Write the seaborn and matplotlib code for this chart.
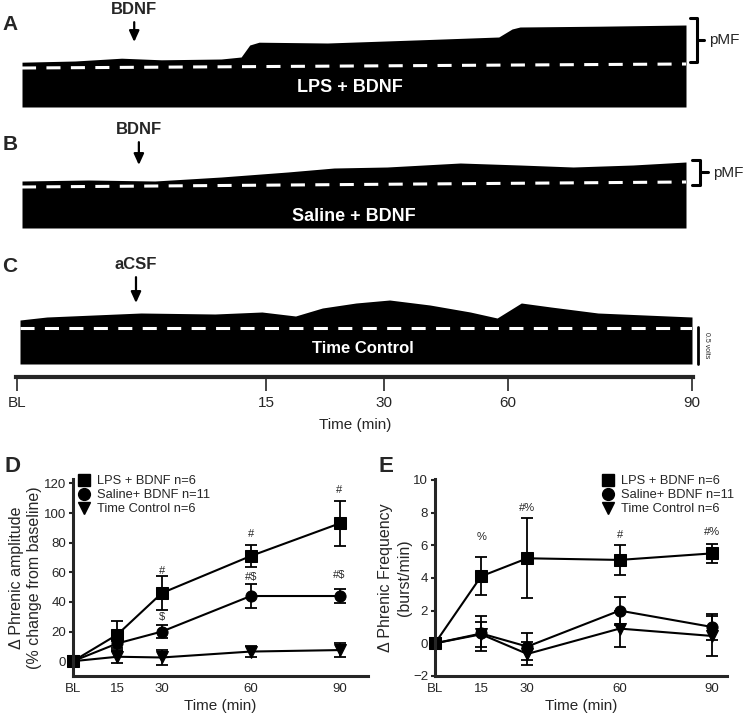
import numpy as np
import pandas as pd
import matplotlib
matplotlib.use('Agg')
import matplotlib.pyplot as plt
from matplotlib.lines import Line2D
import seaborn as sns

# ---- raw trace envelopes (fraction of recording, height in volts) ----
trace_a_pos = [0, 0.08, 0.15, 0.21, 0.30, 0.33, 0.343, 0.357, 0.46, 0.60, 0.718, 0.738, 0.75, 0.87, 1.0]
trace_a_top = [0.56, 0.575, 0.61, 0.59, 0.60, 0.625, 0.775, 0.81, 0.80, 0.84, 0.875, 0.975, 1.0, 1.01, 1.025]
trace_a_dash = [0.4875, 0.5375]

trace_b_pos = [0, 0.1, 0.2, 0.3, 0.4, 0.47, 0.55, 0.66, 0.75, 0.83, 0.92, 1.0]
trace_b_top = [0.5875, 0.6, 0.5875, 0.6375, 0.70, 0.75, 0.7625, 0.8125, 0.7875, 0.7625, 0.7875, 0.825]
trace_b_dash = [0.5125, 0.575]

trace_c_pos = [0, 0.04, 0.11, 0.18, 0.29, 0.36, 0.41, 0.45, 0.5, 0.55, 0.61, 0.67, 0.71, 0.746,
               0.79, 0.86, 0.93, 1.0]
trace_c_top = [0.55, 0.5875, 0.6125, 0.6375, 0.625, 0.65, 0.6, 0.7, 0.7625, 0.8, 0.7375, 0.65,
               0.575, 0.7625, 0.7125, 0.6375, 0.6125, 0.5875]
trace_c_dash = [0.45, 0.45]

timeline_pos = [-0.005, 0.366, 0.541, 0.726, 1.0]

# ---- summary data ----
time_min = [0, 15, 30, 60, 90]
time_labels = ['BL', '15', '30', '60', '90']
groups = ['LPS + BDNF n=6', 'Saline+ BDNF n=11', 'Time Control n=6']

amp_lps = [0, 18, 46, 71, 93]
amp_lps_sem = [0, 9.4, 11.5, 7.5, 15]
amp_sal = [0, 12, 20, 44, 44]
amp_sal_sem = [0, 5, 4.5, 8, 5]
amp_tc = [0, 3, 2.5, 6.5, 7.5]
amp_tc_sem = [0, 4.5, 5, 3.7, 4.5]

freq_lps = [0, 4.1, 5.2, 5.1, 5.5]
freq_lps_sem = [0, 1.15, 2.45, 0.9, 0.6]
freq_sal = [0, 0.6, -0.2, 2.0, 1.0]
freq_sal_sem = [0, 1.05, 0.8, 0.85, 0.8]
freq_tc = [0, 0.55, -0.65, 0.9, 0.45]
freq_tc_sem = [0, 0.75, 0.7, 1.1, 1.2]

amp_sig_x = [30, 30, 60, 60, 90, 90]
amp_sig_y = [61, 29.5, 86, 57, 115.5, 58.5]
amp_sig_txt = ['#', '$', '#', '#$', '#', '#$']

freq_sig_x = [15, 30, 60, 90]
freq_sig_y = [6.5, 8.3, 6.6, 6.8]
freq_sig_txt = ['%', '#%', '#', '#%']

sns.set_style('ticks')
plt.rcParams['font.family'] = ['Liberation Sans', 'DejaVu Sans']
NARROW = ['Liberation Sans Narrow', 'Liberation Sans', 'DejaVu Sans']

W, H = 748, 716
fig = plt.figure(figsize=(W / 100, H / 100), dpi=100)


def px_axes(left, top, right, bottom):
    return fig.add_axes([left / W, 1 - bottom / H, (right - left) / W, (bottom - top) / H])


def draw_trace(ax, pos, top, dash, ymax, name, name_xy, name_size, drug, drug_xy, tip_y):
    ax.fill_between(pos, 0, top, color='k', lw=0)
    ax.plot([0, 1], dash, color='w', lw=2.2, ls=(0, (4.6, 3.4)))
    ax.set_xlim(0, 1)
    ax.set_ylim(0, ymax)
    ax.axis('off')
    ax.text(name_xy[0], name_xy[1], name, color='w', fontsize=name_size, fontweight='bold',
            family=NARROW, ha='center', va='center')
    ax.annotate(drug, xy=(drug_xy[0], tip_y), xytext=drug_xy, ha='center', va='center',
                fontsize=12, fontweight='bold', family=NARROW, annotation_clip=False,
                arrowprops=dict(arrowstyle='-|>,head_length=0.55,head_width=0.25',
                                lw=1.6, color='k', shrinkA=1, shrinkB=0))


def draw_bracket(ax, x0, x1, x2, y0, y1):
    tr = ax.get_yaxis_transform()
    ax.plot([x0, x1, x1, x0], [y1, y1, y0, y0], color='k', lw=2.2, transform=tr,
            clip_on=False, solid_joinstyle='round')
    ym = (y0 + y1) / 2
    ax.plot([x1, x2], [ym, ym], color='k', lw=2.2, transform=tr, clip_on=False)
    ax.text(x2 + 0.008, ym, 'pMF', transform=tr, fontsize=11, va='center', ha='left')


# ---- panel A ----
ax_a = px_axes(22, 0, 686, 107)
draw_trace(ax_a, trace_a_pos, trace_a_top, trace_a_dash, 107 / 80, 'LPS + BDNF', (0.494, 0.2375), 13,
           'BDNF', (0.169, 1.2125), 0.8125)
draw_bracket(ax_a, 1.006, 1.0166, 1.027, 0.5625, 1.1125)

# ---- panel B ----
ax_b = px_axes(22, 120, 686, 228)
draw_trace(ax_b, trace_b_pos, trace_b_top, trace_b_dash, 108 / 80, 'Saline + BDNF', (0.50, 0.1375), 13,
           'BDNF', (0.176, 1.225), 0.7875)
draw_bracket(ax_b, 1.009, 1.021, 1.033, 0.5375, 0.85)

# ---- panel C ----
ax_c = px_axes(20, 256, 692, 364)
draw_trace(ax_c, trace_c_pos, trace_c_top, trace_c_dash, 108 / 80, 'Time Control', (0.51, 0.19), 12,
           'aCSF', (0.1726, 1.2375), 0.7625)
tr_c = ax_c.get_yaxis_transform()
ax_c.plot([1.009, 1.009], [0.0, 0.46], color='k', lw=2, transform=tr_c, clip_on=False)
ax_c.text(1.022, 0.23, '0.5 volts', transform=tr_c, rotation=-90, fontsize=5,
          ha='center', va='center')

# ---- timeline ----
ax_t = px_axes(16, 376, 693, 377)
ax_t.set_xlim(-0.006, 1.0015)
ax_t.set_ylim(0, 1)
for s in ['top', 'left', 'right']:
    ax_t.spines[s].set_visible(False)
ax_t.spines['bottom'].set_linewidth(3)
ax_t.set_yticks([])
ax_t.set_xticks(timeline_pos)
ax_t.set_xticklabels(time_labels, family=NARROW, fontsize=11)
ax_t.tick_params(axis='x', direction='out', length=10, width=1.2, pad=4)
fig.text(355 / W, 1 - 425 / H, 'Time (min)', fontsize=11, ha='center', va='center')

# panel letters
for letter, (x, y) in zip(['A', 'B', 'C'], [(10, 24), (10, 145), (10, 267)]):
    fig.text(x / W, 1 - y / H, letter, fontsize=15, fontweight='bold', family=NARROW,
             ha='center', va='center')
for letter, (x, y) in zip(['D', 'E'], [(12, 466), (386, 466)]):
    fig.text(x / W, 1 - y / H, letter, fontsize=16, fontweight='bold', ha='center', va='center')


def summary_panel(ax, vals, sems, ylim, yticks, xmax, ylabel, sig_x, sig_y, sig_txt,
                  leg_anchor, labelpad):
    df = pd.DataFrame({
        'time': time_min * 3,
        'value': vals[2] + vals[1] + vals[0],
        'group': [groups[2]] * 5 + [groups[1]] * 5 + [groups[0]] * 5,
    })
    markers = {groups[0]: 's', groups[1]: 'o', groups[2]: 'v'}
    sns.lineplot(data=df, x='time', y='value', style='group', markers=markers, dashes=False,
                 color='k', markersize=8, linewidth=1.5, markeredgecolor='k',
                 style_order=[groups[2], groups[1], groups[0]],
                 legend=False, errorbar=None, sort=False, ax=ax)
    for v, e in zip(vals, sems):
        ax.errorbar(time_min[1:], v[1:], yerr=e[1:], fmt='none', ecolor='k', elinewidth=1.3,
                    capsize=4.5, capthick=1.3)
    for ln in ax.lines:
        ln.set_clip_on(False)
    for x, y, t in zip(sig_x, sig_y, sig_txt):
        ax.text(x, y, t, fontsize=8, ha='center', va='center')
    ax.set_xlim(0, xmax)
    ax.set_ylim(*ylim)
    ax.set_yticks(yticks)
    ax.set_xticks(time_min)
    ax.set_xticklabels(time_labels)
    sns.despine(ax=ax)
    ax.spines['left'].set_linewidth(2.2)
    ax.spines['bottom'].set_linewidth(2.2)
    ax.tick_params(axis='y', direction='out', length=3, width=1.5, labelsize=9.5, pad=2)
    ax.tick_params(axis='x', length=0, labelsize=9.5, pad=5)
    ax.set_xlabel('Time (min)', fontsize=11, labelpad=3)
    ax.set_ylabel(ylabel, fontsize=11.5, linespacing=1.3, labelpad=labelpad)
    handles = [Line2D([], [], marker=m, ls='none', color='k', ms=8.5)
               for m in ['s', 'o', 'v']]
    ax.legend(handles, groups, loc='upper left', bbox_to_anchor=leg_anchor, frameon=False,
              fontsize=9.3, handlelength=0.8, handletextpad=0.6, labelspacing=0.15,
              borderaxespad=0, borderpad=0)


ax_d = px_axes(73, 479, 368, 676)
summary_panel(ax_d, [amp_lps, amp_sal, amp_tc], [amp_lps_sem, amp_sal_sem, amp_tc_sem],
              (-10, 123), [0, 20, 40, 60, 80, 100, 120], 99.6,
              'Δ Phrenic amplitude\n(% change from baseline)',
              amp_sig_x, amp_sig_y, amp_sig_txt, (0.02, 1.02), 1)

ax_e = px_axes(435, 479, 727, 676)
summary_panel(ax_e, [freq_lps, freq_sal, freq_tc], [freq_lps_sem, freq_sal_sem, freq_tc_sem],
              (-2, 10.05), [-2, 0, 2, 4, 6, 8, 10], 94.9,
              'Δ Phrenic Frequency\n(burst/min)',
              freq_sig_x, freq_sig_y, freq_sig_txt, (0.575, 1.02), 1)

fig.savefig('out.png', dpi=100)
